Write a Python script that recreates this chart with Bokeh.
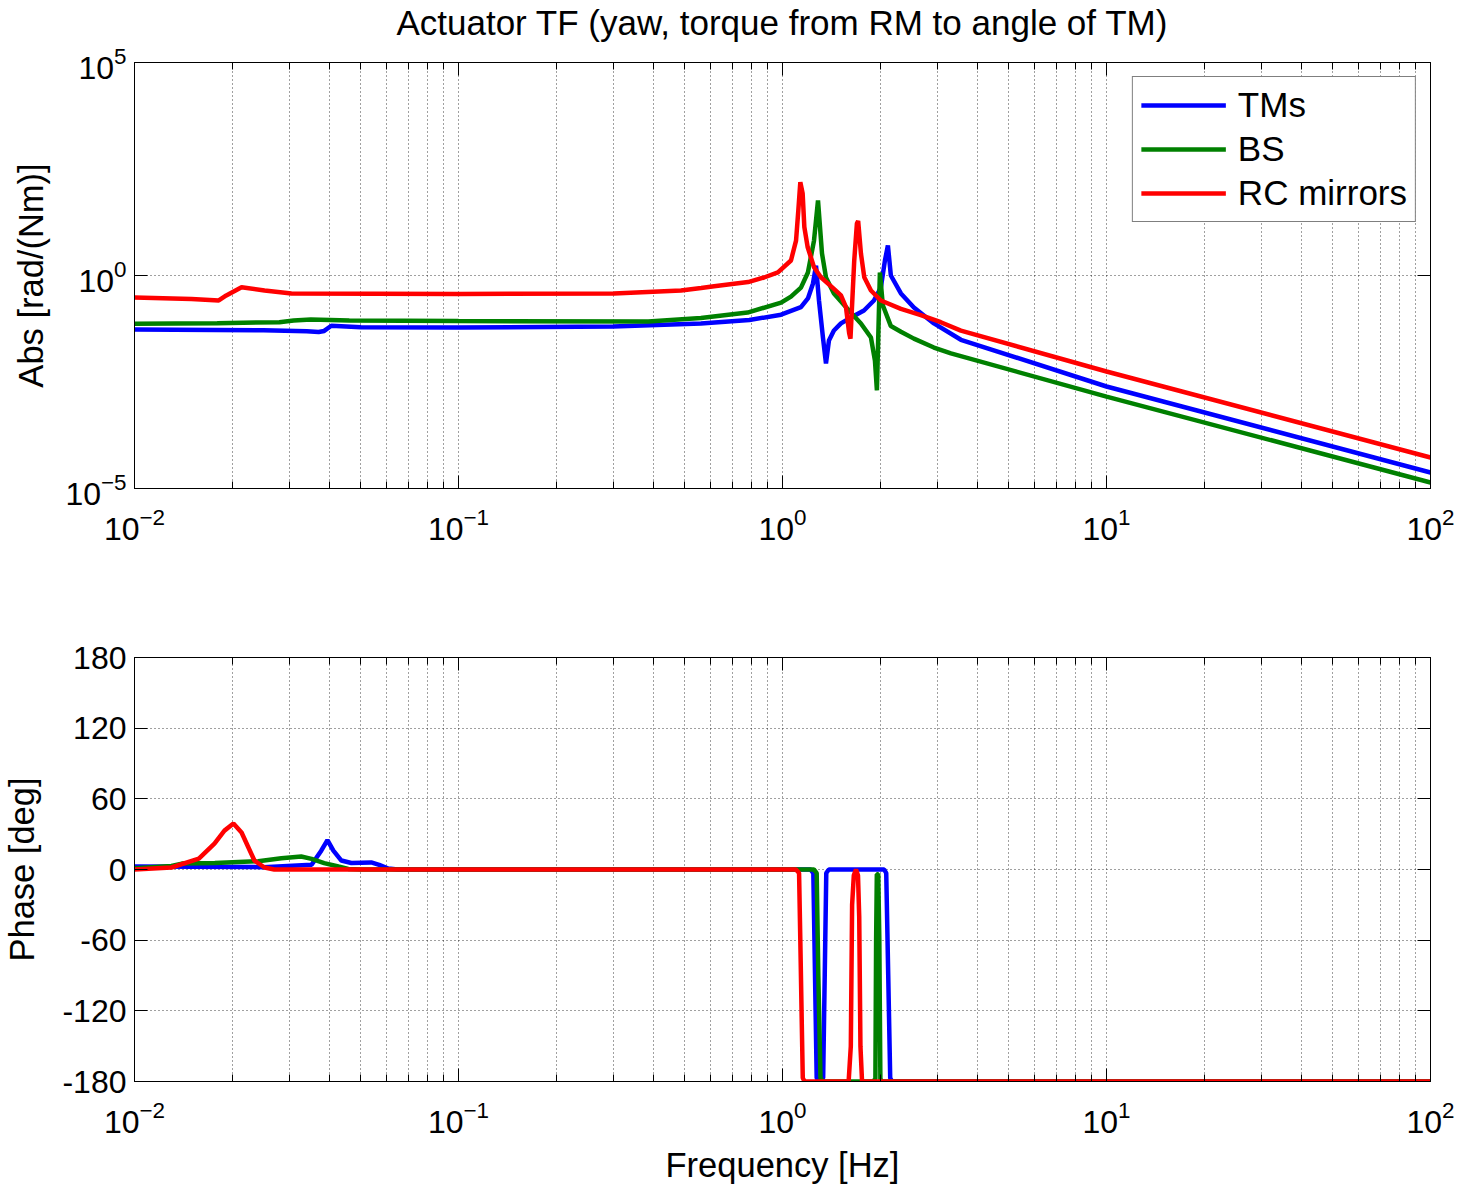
from bokeh.plotting import figure
from bokeh.models import (FixedTicker, LogAxis, LinearAxis, Legend, LegendItem,
                          Range1d, CustomJSTickFormatter)
from bokeh.layouts import column
from bokeh.embed import file_html
from bokeh.resources import INLINE

FONT = "Liberation Sans"

# ---------------- data ----------------
# Magnitude, TMs
tm_mag_f = [0.01, 0.025, 0.034, 0.037, 0.0385, 0.0405, 0.05, 0.1, 0.3, 0.56,
            0.79, 0.99, 1.14, 1.198, 1.242, 1.269, 1.296, 1.333, 1.362, 1.391,
            1.441, 1.515, 1.627, 1.784, 1.915, 2.012, 2.071, 2.115, 2.16, 2.32,
            2.544, 2.933, 3.553, 10, 100]
tm_mag = [0.054, 0.052, 0.049, 0.047, 0.050, 0.066, 0.061, 0.060, 0.0635, 0.0747,
          0.09, 0.12, 0.18, 0.29, 0.65, 1.7, 0.259, 0.035, 0.0086, 0.0298,
          0.0512, 0.075, 0.103, 0.151, 0.259, 0.523, 2.25, 5.06, 1.0, 0.38,
          0.177, 0.075, 0.031, 0.00248, 2.38e-5]

# Magnitude, BS
bs_mag_f = [0.01, 0.018, 0.028, 0.031, 0.035, 0.046, 0.1, 0.385, 0.56, 0.78,
            0.99, 1.062, 1.14, 1.198, 1.251, 1.287, 1.324, 1.362, 1.441, 1.604,
            1.746, 1.875, 1.929, 1.956, 1.998, 2.04, 2.16, 2.32, 2.544, 2.933,
            3.31, 10, 100]
bs_mag = [0.074, 0.076, 0.080, 0.088, 0.093, 0.088, 0.085, 0.083, 0.10, 0.135,
          0.23, 0.32, 0.52, 1.18, 6.6, 57.6, 3.3, 0.898, 0.378, 0.151,
          0.0747, 0.035, 0.0101, 0.002, 1.18, 0.2, 0.065, 0.048, 0.033, 0.0204,
          0.0148, 0.00144, 1.38e-5]

# Magnitude, RC mirrors
rc_mag_f = [0.01, 0.015, 0.0182, 0.0192, 0.0214, 0.0252, 0.0305, 0.1, 0.302, 0.486,
            0.561, 0.615, 0.783, 0.877, 0.968, 1.062, 1.101, 1.119, 1.135, 1.154,
            1.168, 1.196, 1.251, 1.314, 1.441, 1.515, 1.570, 1.606, 1.621, 1.665,
            1.697, 1.712, 1.746, 1.788, 1.875, 2.012, 2.32, 2.673, 3.08, 3.553,
            10, 100]
rc_mag = [0.305, 0.28, 0.26, 0.34, 0.53, 0.445, 0.38, 0.37, 0.378, 0.445,
          0.51, 0.56, 0.70, 0.898, 1.18, 2.25, 6.6, 33.6, 155, 84,
          13.6, 4.6, 1.57, 0.91, 0.487, 0.34, 0.18, 0.044, 0.033, 2.25,
          16.6, 19, 3.3, 0.91, 0.445, 0.259, 0.165, 0.118, 0.08, 0.051,
          0.00557, 5.34e-5]

# Phase, TMs
tm_ph_f = [0.01, 0.025, 0.0352, 0.0377, 0.0394, 0.0411, 0.0435, 0.0467, 0.0538, 0.0569,
           0.0607, 0.065, 1.22, 1.245, 1.26, 1.275, 1.30, 1.335, 1.35, 1.365,
           1.39, 2.06, 2.09, 2.12, 2.15, 2.18, 100]
tm_ph = [2.5, 2.0, 4, 16, 25, 16, 7.6, 5.5, 6, 4,
         0.8, 0, 0, -3, -90, -177, -180, -177, -90, -3,
         0, 0, -3, -90, -177, -180, -180]

# Phase, BS
bs_ph_f = [0.01, 0.013, 0.014, 0.0177, 0.0241, 0.0284, 0.0327, 0.0352, 0.0385, 0.0426,
           0.0457, 0.05, 1.25, 1.275, 1.29, 1.31, 1.33, 1.90, 1.935, 1.945,
           1.955, 1.975, 1.99, 2.005, 2.03, 100]
bs_ph = [1, 3, 5, 5.5, 7, 9.5, 11, 9, 5.4, 2.5,
         0.5, 0, 0, -3, -90, -177, -180, -180, -178, -60,
         -4, -4, -60, -178, -180, -180]

# Phase, RC mirrors
rc_ph_f = [0.01, 0.013, 0.0158, 0.01765, 0.01895, 0.0202, 0.0214, 0.02247, 0.02345, 0.0252,
           0.027, 1.10, 1.125, 1.135, 1.145, 1.155, 1.17, 1.60, 1.625, 1.64,
           1.66, 1.686, 1.71, 1.725, 1.74, 1.76, 100]
rc_ph = [0, 1.7, 9.3, 22, 33, 39, 31.4, 18.7, 7.6, 1.7,
         0, 0, -3, -60, -120, -177, -180, -180, -150, -30,
         -5, 0, -5, -40, -150, -180, -180]

series_names = ["TMs", "BS", "RC mirrors"]
series_colors = ["#0000ff", "#008000", "#ff0000"]
title_text = "Actuator TF (yaw, torque from RM to angle of TM)"

x_major = [0.01, 0.1, 1, 10, 100]
x_minor = [m * 10.0 ** e for e in range(-2, 2) for m in range(2, 10)]
mag_ticks = [1e-5, 1, 1e5]
phase_ticks = [-180, -120, -60, 0, 60, 120, 180]

LW = 4.5
TICK_FS = "32px"
LABEL_FS = "34.5px"


def blank():
    return CustomJSTickFormatter(code="return ''")


def style_axis(ax, minor=True):
    ax.axis_line_color = "black"
    ax.axis_line_width = 1
    ax.major_tick_line_color = "black"
    ax.major_tick_in = 13
    ax.major_tick_out = 0
    if minor:
        ax.minor_tick_line_color = "black"
        ax.minor_tick_in = 7
        ax.minor_tick_out = 0
    else:
        ax.minor_tick_line_color = None
    ax.major_label_text_font = FONT
    ax.major_label_text_font_size = TICK_FS
    ax.major_label_text_color = "black"
    ax.axis_label_text_font = FONT
    ax.axis_label_text_font_size = LABEL_FS
    ax.axis_label_text_font_style = "normal"
    ax.axis_label_text_color = "black"


def make_fig(height, y_type, y_start, y_end, y_ticks, bt, bb, top_pad=False):
    p = figure(width=1462, height=height, x_axis_type="log", y_axis_type=y_type,
               x_range=Range1d(0.01, 100), y_range=Range1d(y_start, y_end),
               output_backend="svg", toolbar_location=None,
               min_border_left=133, min_border_right=32,
               min_border_top=bt, min_border_bottom=bb)
    p.background_fill_color = "white"
    p.border_fill_color = "white"
    p.outline_line_color = "black"
    p.outline_line_width = 1

    xb = p.below[0]
    yl = p.left[0]
    xb.ticker = FixedTicker(ticks=x_major, minor_ticks=x_minor)
    yl.ticker = FixedTicker(ticks=y_ticks)
    style_axis(xb, minor=True)
    style_axis(yl, minor=False)
    xb.major_label_standoff = 19
    yl.major_label_standoff = 8

    # box ticks on top and right
    if y_type == "log":
        ry = LogAxis(ticker=FixedTicker(ticks=y_ticks), formatter=blank())
    else:
        ry = LinearAxis(ticker=FixedTicker(ticks=y_ticks), formatter=blank())
    tx = LogAxis(ticker=FixedTicker(ticks=x_major, minor_ticks=x_minor), formatter=blank())
    for ax, mn in ((ry, False), (tx, True)):
        style_axis(ax, minor=mn)
        ax.major_label_text_font_size = "1px"
        ax.major_label_standoff = 0
    if top_pad:
        # blank spacer label keeps the title clear of the frame
        tx.axis_label = " "
        tx.axis_label_text_font_size = "12px"
        tx.axis_label_standoff = 4
    p.add_layout(ry, "right")
    p.add_layout(tx, "above")

    for g in (p.xgrid[0], p.ygrid[0]):
        g.grid_line_color = "black"
        g.grid_line_alpha = 0.75
        g.grid_line_dash = "1 3"
        g.grid_line_width = 1
    p.xgrid[0].minor_grid_line_color = "black"
    p.xgrid[0].minor_grid_line_alpha = 0.75
    p.xgrid[0].minor_grid_line_dash = "1 3"
    return p, xb, yl


# ---------------- magnitude ----------------
p1, p1x, p1y = make_fig(570, "log", 1e-5, 1e5, mag_ticks, 62, 82, top_pad=True)
p1.title.text = title_text
p1.title.align = "center"
p1.title.vertical_align = "bottom"
p1.title.text_font = FONT
p1.title.text_font_size = "35px"
p1.title.text_font_style = "normal"
p1.title.text_color = "black"
p1.title.standoff = 0
p1y.axis_label = "Abs [rad/(Nm)]"
p1y.axis_label_standoff = 12

mag_f = [tm_mag_f, bs_mag_f, rc_mag_f]
mag_v = [tm_mag, bs_mag, rc_mag]
items = []
for name, col, fx, vy in zip(series_names, series_colors, mag_f, mag_v):
    r = p1.line(fx, vy, line_color=col, line_width=LW)
    items.append(LegendItem(label=name, renderers=[r]))

leg = Legend(items=items, location="top_right")
leg.margin = 14
leg.padding = 8
leg.spacing = 4
leg.glyph_width = 85
leg.glyph_height = 40
leg.label_height = 40
leg.label_standoff = 12
leg.label_text_font = FONT
leg.label_text_font_size = "35px"
leg.label_text_color = "black"
leg.border_line_color = "black"
leg.border_line_width = 1
leg.background_fill_color = "white"
leg.background_fill_alpha = 1.0
p1.add_layout(leg)

# ---------------- phase ----------------
p2, p2x, p2y = make_fig(618, "linear", -180, 180, phase_ticks, 87, 107)
p2x.axis_label = "Frequency [Hz]"
p2x.axis_label_standoff = 10
p2y.axis_label = "Phase [deg]"
p2y.axis_label_standoff = 18
p2y.major_label_overrides = {t: str(t) for t in phase_ticks}

ph_f = [tm_ph_f, bs_ph_f, rc_ph_f]
ph_v = [tm_ph, bs_ph, rc_ph]
for col, fx, vy in zip(series_colors, ph_f, ph_v):
    p2.line(fx, vy, line_color=col, line_width=LW)

layout = column(p1, p2, spacing=0)
open("out.html", "w").write(file_html(layout, INLINE))
